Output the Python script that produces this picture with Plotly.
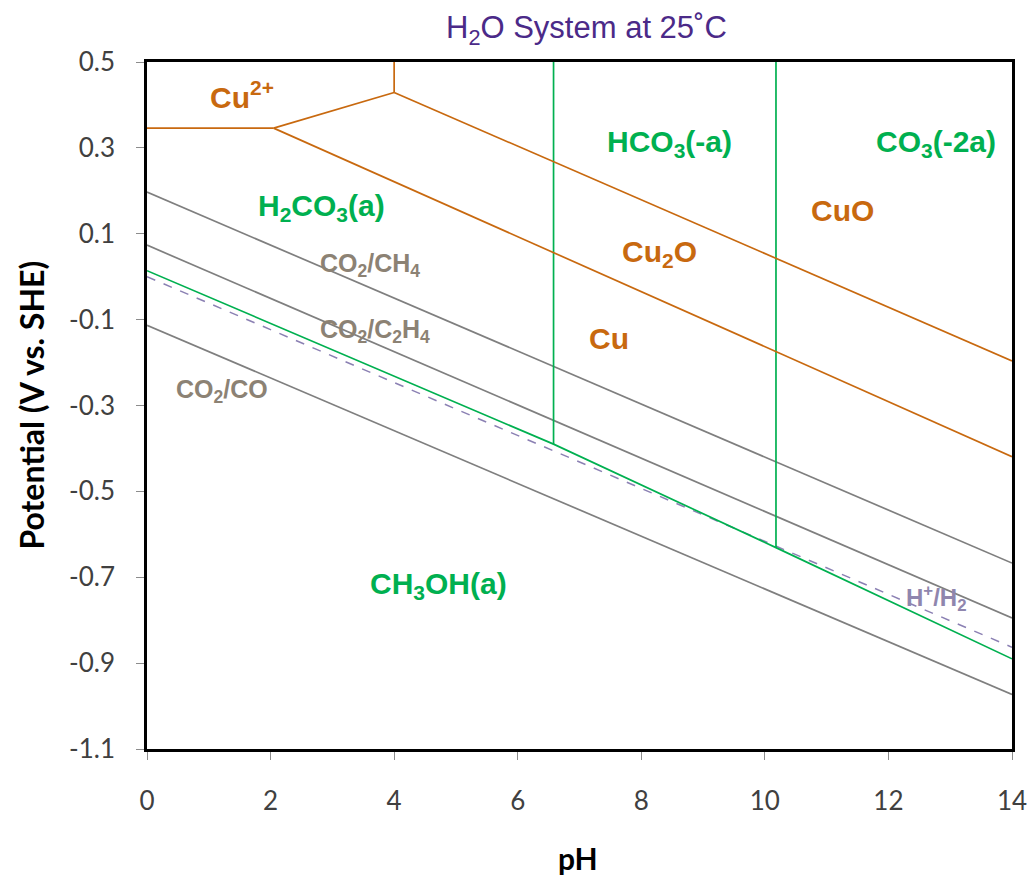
import plotly.graph_objects as go

# ---- Pourbaix boundaries (pH, potential in V vs. SHE) ----
# Copper system
cu2_cu_ph = [0, 2.05]
cu2_cu_e = [0.346, 0.346]
cu2_cu2o_ph = [2.05, 4.0]
cu2_cu2o_e = [0.346, 0.429]
cu2_cuo_ph = [4.0, 4.0]
cu2_cuo_e = [0.429, 0.5]
cuo_cu2o_ph = [4.0, 14.0]
cuo_cu2o_e = [0.429, -0.196]
cu2o_cu_ph = [2.05, 14.0]
cu2o_cu_e = [0.346, -0.419]

# Carbonate / methanol system
h2co3_hco3_ph = [6.58, 6.58]
h2co3_hco3_e = [0.5, -0.390]
hco3_co3_ph = [10.18, 10.18]
hco3_co3_e = [0.5, -0.631]
ch3oh_ph = [0, 6.58, 10.18, 14.0]
ch3oh_e = [0.014, -0.390, -0.631, -0.890]

# CO2 reduction couples and hydrogen evolution
co2_ch4_ph = [0, 14]
co2_ch4_e = [0.197, -0.667]
co2_c2h4_ph = [0, 14]
co2_c2h4_e = [0.0735, -0.795]
co2_co_ph = [0, 14]
co2_co_e = [-0.113, -0.973]
h_h2_ph = [0, 14]
h_h2_e = [0.0, -0.863]

# Axis ticks
x_ticks = [0, 2, 4, 6, 8, 10, 12, 14]
y_ticks = [0.5, 0.3, 0.1, -0.1, -0.3, -0.5, -0.7, -0.9, -1.1]
y_tick_text = ["0.5", "0.3", "0.1", "-0.1", "-0.3", "-0.5", "-0.7", "-0.9", "-1.1"]

# Region / couple labels: (text, pH, E, kind)
labels = [
    ("<b>Cu<sup>2+</sup></b>", 1.54, 0.423, "cu"),
    ("<b>H<sub>2</sub>CO<sub>3</sub>(a)</b>", 2.83, 0.162, "c"),
    ("<b>HCO<sub>3</sub>(-a)</b>", 8.46, 0.311, "c"),
    ("<b>CO<sub>3</sub>(-2a)</b>", 12.77, 0.311, "c"),
    ("<b>CuO</b>", 11.26, 0.153, "cu"),
    ("<b>Cu<sub>2</sub>O</b>", 8.30, 0.055, "cu"),
    ("<b>Cu</b>", 7.48, -0.143, "cu"),
    ("<b>CO<sub>2</sub>/CH<sub>4</sub></b>", 3.61, 0.027, "co2"),
    ("<b>CO<sub>2</sub>/C<sub>2</sub>H<sub>4</sub></b>", 3.69, -0.127, "co2"),
    ("<b>CO<sub>2</sub>/CO</b>", 1.21, -0.266, "co2"),
    ("<b>CH<sub>3</sub>OH(a)</b>", 4.72, -0.720, "c"),
    ("<b>H<sup>+</sup>/H<sub>2</sub></b>", 12.78, -0.748, "h"),
]

ORANGE = "#C8690F"
GREEN = "#00B050"
GRAY = "#7F7F7F"
TAN = "#8C8274"
LAVENDER = "#8B80B3"
PURPLE = "#4B2A88"

label_style = {
    "cu": dict(color=ORANGE, size=30),
    "c": dict(color=GREEN, size=30),
    "co2": dict(color=TAN, size=25),
    "h": dict(color="#8F86AE", size=24),
}

fig = go.Figure()


def add_line(xs, ys, color, dash="solid", width=1.7):
    fig.add_trace(go.Scatter(
        x=xs, y=ys, mode="lines",
        line=dict(color=color, width=width, dash=dash),
        hoverinfo="skip", showlegend=False,
    ))


# CO2 reduction couples (gray)
add_line(co2_ch4_ph, co2_ch4_e, GRAY)
add_line(co2_c2h4_ph, co2_c2h4_e, GRAY)
add_line(co2_co_ph, co2_co_e, GRAY)

# Hydrogen evolution (dashed)
add_line(h_h2_ph, h_h2_e, LAVENDER, dash="dash", width=1.5)

# Carbon species boundaries (green)
add_line(ch3oh_ph, ch3oh_e, GREEN)
add_line(h2co3_hco3_ph, h2co3_hco3_e, GREEN)
add_line(hco3_co3_ph, hco3_co3_e, GREEN)

# Copper boundaries (orange)
add_line(cu2_cu_ph, cu2_cu_e, ORANGE)
add_line(cu2_cu2o_ph, cu2_cu2o_e, ORANGE)
add_line(cu2_cuo_ph, cu2_cuo_e, ORANGE)
add_line(cuo_cu2o_ph, cuo_cu2o_e, ORANGE)
add_line(cu2o_cu_ph, cu2o_cu_e, ORANGE)

for text, ph, e, kind in labels:
    st = label_style[kind]
    fig.add_annotation(
        x=ph, y=e, xref="x", yref="y", text=text, showarrow=False,
        xanchor="center", yanchor="middle",
        font=dict(family="Liberation Sans, Arial, sans-serif",
                  size=st["size"], color=st["color"]),
    )

# Title and axis titles
fig.add_annotation(
    x=0.508, y=1.046, xref="paper", yref="paper", showarrow=False,
    text="H<sub>2</sub>O System at 25˚C",
    xanchor="center", yanchor="middle",
    font=dict(family="Liberation Sans, Arial, sans-serif", size=31, color=PURPLE),
)
fig.add_annotation(
    x=-0.134, y=0.5, xref="paper", yref="paper", showarrow=False,
    text="<b>Potential (V vs. SHE)</b>", textangle=-90,
    xanchor="center", yanchor="middle",
    font=dict(family="Lato, sans-serif", size=32, color="#000000"),
)
fig.add_annotation(
    x=0.498, y=-0.158, xref="paper", yref="paper", showarrow=False,
    text="<b>pH</b>", xanchor="center", yanchor="middle",
    font=dict(family="Lato, sans-serif", size=30, color="#000000"),
)

axis_common = dict(
    showline=True, linecolor="#000000", linewidth=2.5, mirror=True,
    ticks="outside", ticklen=8, tickcolor="#8C8C8C", tickwidth=1,
    showgrid=False, zeroline=False, ticklabeloverflow="allow",
    automargin=False,
    tickfont=dict(family="Lato, sans-serif", size=26, color="#404040"),
)

fig.update_xaxes(
    range=[0, 14], tickvals=x_ticks, ticktext=[str(t) for t in x_ticks],
    ticklabelstandoff=19, **axis_common,
)
fig.update_yaxes(
    range=[-1.1, 0.5], tickvals=y_ticks, ticktext=y_tick_text,
    ticklabelstandoff=16, **axis_common,
)

fig.update_layout(
    width=1031, height=878, autosize=False,
    margin=dict(l=147, r=19, t=62, b=129, autoexpand=False),
    plot_bgcolor="white", paper_bgcolor="white",
)

fig.write_html("out.html")
